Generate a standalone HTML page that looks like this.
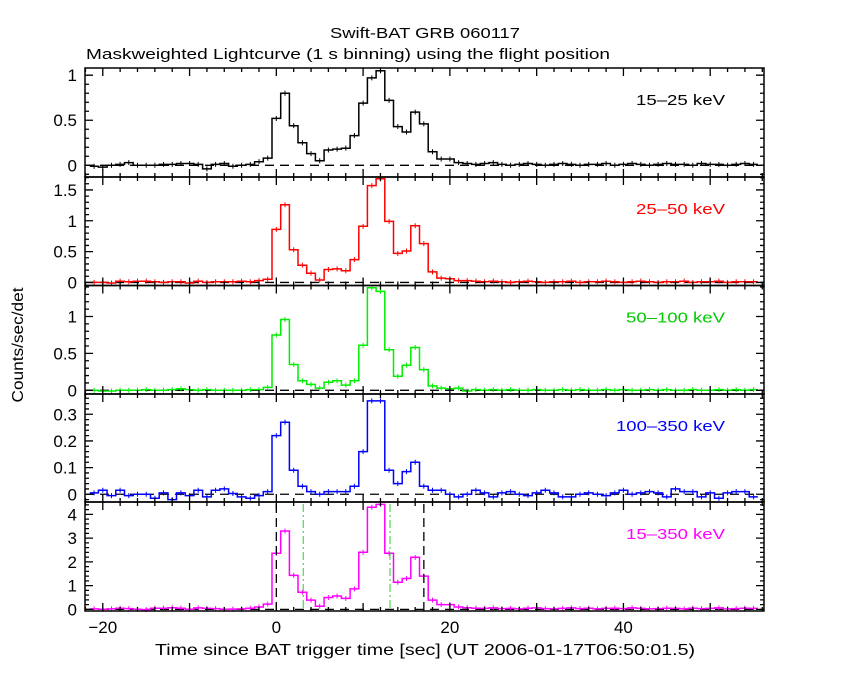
<!DOCTYPE html>
<html><head><meta charset="utf-8"><style>
body{margin:0;background:#fff;}
svg text{font-family:"Liberation Sans",sans-serif;}
</style></head><body>
<svg id="c" width="850" height="680" xmlns="http://www.w3.org/2000/svg">
<rect width="850" height="680" fill="#fff"/>
<text x="425" y="38" text-anchor="middle" font-size="15" textLength="190" lengthAdjust="spacingAndGlyphs">Swift-BAT GRB 060117</text>
<text x="86" y="59" font-size="15" textLength="524" lengthAdjust="spacingAndGlyphs">Maskweighted Lightcurve (1 s binning) using the flight position</text>
<text x="155" y="655" font-size="16" textLength="540" lengthAdjust="spacingAndGlyphs">Time since BAT trigger time [sec] (UT 2006-01-17T06:50:01.5)</text>
<text transform="translate(23,345) rotate(-90)" text-anchor="middle" font-size="16" textLength="115" lengthAdjust="spacingAndGlyphs">Counts/sec/det</text>
<g id="plots"></g>
</svg>
<script>
const times=[];for(let t=-21;t<=55;t++)times.push(t);
const xTicks=[-20,0,20,40];
const pre1=[-0.01,-0.02,0,0.01,0.03,0,0,0,0.01,0.01,0.02,0.02,0.01,-0.04,0.01,0.02,-0.01,0,0.01];
const burst1=[0.04,0.08,0.52,0.80,0.44,0.25,0.13,0.05,0.17,0.18,0.19,0.33,0.69,0.97,1.05,0.72,0.43,0.37,0.59,0.46,0.15,0.07,0.07,0.03,0.02];
const post1=[0.01,0.02,0.03,0.01,0,0.01,0.02,0.01,0,0.01,0.02,0.01,0,0.01,0.01,0.02,0,0.01,0.02,0.01,0,0.01,0.02,0.01,0.01,0,0.02,0.01,0.01,0,0.01,0.02,0.01];
const pre2=[0,0,-0.01,0.02,0.01,0.02,0.02,0.01,0,0.01,0.01,-0.01,0.02,0,0.01,0.01,0.01,0.02,0.01];
const burst2=[0.03,0.05,0.86,1.26,0.53,0.28,0.15,0.04,0.21,0.22,0.19,0.37,0.91,1.57,1.68,0.99,0.47,0.51,0.92,0.63,0.17,0.07,0.06,0.03,0.03];
const post2=[0.02,0.01,0.02,0.01,0,0.01,0.02,0.01,0,0.01,0.01,0.02,0,0.01,0.01,0.02,0.01,0,0.01,0.02,0.01,0,0.01,0.01,0.02,0,0.01,0.01,0.02,0,0.01,0.01,0.01];
const pre3=[0,-0.01,-0.01,0,0,0,0.01,0,0,0.01,0.02,0.01,0,0.01,0,0,0,0,0.01];
const burst3=[0.01,0.04,0.75,0.96,0.35,0.13,0.08,0.03,0.11,0.13,0.07,0.13,0.61,1.39,1.34,0.55,0.19,0.34,0.58,0.28,0.06,0.03,0.02,0.03,-0.01];
const post3=[0.01,0,0.01,0,0.01,0,0,0.01,0,0,0.01,0,0.01,0,0,0.01,0,0.01,0,0,0.01,0,0.01,0,0,0.01,0,0,0.01,0,0.01,0,0.01];
const pre4=[0.005,0.015,-0.005,0.015,-0.005,0,0,-0.015,0.005,-0.02,0.005,-0.005,0.015,-0.01,0.015,0.02,0.003,-0.01,-0.015];
const burst4=[-0.005,0.01,0.22,0.27,0.09,0.03,0.01,0.0,0.01,0.01,0.01,0.03,0.16,0.35,0.35,0.09,0.04,0.085,0.12,0.03,0.015,0.015,0.0,-0.01,0.0];
const post4=[0.015,0.005,-0.01,0.005,0.01,0,-0.005,0.005,0.015,0.005,-0.01,-0.01,0,0.005,0,-0.005,0.005,0.015,0,0.005,0.01,0.005,-0.01,0.02,0.01,0.01,-0.01,0.005,-0.015,0.005,0.01,0.01,-0.01];
const pre5=[0.02,0,0.02,0.05,0.03,0,-0.01,0.05,0.05,0.07,0.05,0,0.06,0.04,0.03,0,0.01,0.02,0.05];
const burst5=[0.1,0.22,2.36,3.3,1.43,0.72,0.39,0.13,0.5,0.56,0.46,0.86,2.4,4.3,4.42,2.36,1.14,1.3,2.19,1.4,0.39,0.2,0.2,0.1,0.07];
const post5=[0.05,0.04,0.06,0.03,0.04,0.02,0.05,0.06,0.03,0.02,0.04,0.06,0.03,0.05,0.02,0.04,0.05,0.03,0.06,0.04,0.02,0.03,0.05,0.04,0.02,0.05,0.03,0.04,0.06,0.02,0.03,0.05,0.04];
const bandLabels=["15-25 keV","25-50 keV","50-100 keV","100-350 keV","15-350 keV"];
const tStart=[0,17], tMid=[3.1,13.1];

const series=[pre1.concat(burst1,post1),pre2.concat(burst2,post2),pre3.concat(burst3,post3),pre4.concat(burst4,post4),pre5.concat(burst5,post5)];
const colors=["#000","#f00","#0e0","#00f","#f0f"];
const tops=[68,177,285.5,394,502],bots=[177,285.5,394,502,611];
const yr=[[-0.13,1.08],[-0.05,1.71],[-0.05,1.42],[-0.029,0.376],[-0.07,4.52]];
const major=[0.5,0.5,0.5,0.1,1],minor=[0.1,0.1,0.1,0.02,0.2];
const L=85,R=764,x0=-22.05,x1=56.2;
const X=t=>L+(t-x0)/(x1-x0)*(R-L);
const NS="http://www.w3.org/2000/svg";
const g=document.getElementById('plots');
function mk(tag,a,parent){const e=document.createElementNS(NS,tag);for(const k in a)e.setAttribute(k,a[k]);(parent||g).appendChild(e);return e;}
function fmt(v){return (Math.round(v*100)/100).toString();}
for(let p=0;p<5;p++){
  const T=tops[p],B=bots[p],[y0,y1]=yr[p];
  const Y=v=>B-(v-y0)/(y1-y0)*(B-T);
  const pg=mk('g',{});
  
  
  const z=mk('line',{x1:L,x2:R,y1:Y(0),y2:Y(0),stroke:'#000','stroke-width':1.3,'stroke-dasharray':'9,6'},pg);
  
  
  let d='';const s=series[p];
  for(let i=0;i<times.length;i++){const xa=Math.max(L,X(times[i]-0.5)),xb=Math.min(R,X(times[i]+0.5)),y=Math.max(T,Y(s[i]));d+=(i?'L':'M')+xa.toFixed(1)+','+y.toFixed(1)+'L'+xb.toFixed(1)+','+y.toFixed(1);}
  const path=mk('path',{d:d,fill:'none',stroke:colors[p],'stroke-width':1.5},pg);
  
  
  let eb='';for(let i=0;i<times.length;i++){const x=X(times[i]);if(x<L||x>R)continue;const y=Math.max(T,Y(s[i]));eb+='M'+x.toFixed(1)+','+(y-2.5)+'L'+x.toFixed(1)+','+(y+2.5);}
  const e=mk('path',{d:eb,stroke:colors[p],'stroke-width':1},pg);
  
  
  const fr=mk('rect',{x:L,y:T,width:R-L,height:B-T,fill:'none',stroke:'#000','stroke-width':1.5},pg);
  
  
  let td='';
  for(let t=-22;t<=56;t+=2){const x=X(t);if(x<L||x>R)continue;const big=t%10===0;const h=big?8:4;td+='M'+x+','+B+'v'+(-h)+'M'+x+','+T+'v'+h;}
  const n0=Math.ceil(y0/minor[p]-1e-6),n1=Math.floor(y1/minor[p]+1e-6);
  for(let n=n0;n<=n1;n++){const v=n*minor[p];const y=Y(v);const big=Math.abs(v/major[p]-Math.round(v/major[p]))<1e-6;const w=big?8:4;td+='M'+L+','+y+'h'+w+'M'+R+','+y+'h'+(-w);
    if(big){const tx=mk('text',{x:L-8,y:y+6,'text-anchor':'end','font-size':17},pg);tx.textContent=fmt(v);
      
      }}
  mk('path',{d:td,stroke:'#000','stroke-width':1.3,fill:'none'},pg);
  const lab=bandLabels[p].replace('-','\u2013');
  const lb=mk('text',{x:725,y:T+37,'text-anchor':'end','font-size':15,textLength:(lab.length*9.9).toFixed(0),lengthAdjust:'spacingAndGlyphs',fill:colors[p]==='#0e0'?'#0c0':colors[p]},pg);
  lb.textContent=lab;
  
  
  if(p===4){
    tStart.forEach(t=>{const l=mk('line',{x1:X(t),x2:X(t),y1:T+2,y2:B,stroke:'#000','stroke-width':1.3,'stroke-dasharray':'9,5'},pg);
      
      });
    tMid.forEach(t=>{const l=mk('line',{x1:X(t),x2:X(t),y1:T+2,y2:B,stroke:'#3c3','stroke-width':1,'stroke-dasharray':'8,3,2,3'},pg);
      
      });
    xTicks.forEach(t=>{const tx=mk('text',{x:X(t),y:633,'text-anchor':'middle','font-size':17},pg);tx.textContent=t<0?'\u2212'+(-t):t;
      
      });
  }
}
</script>
</body></html>
